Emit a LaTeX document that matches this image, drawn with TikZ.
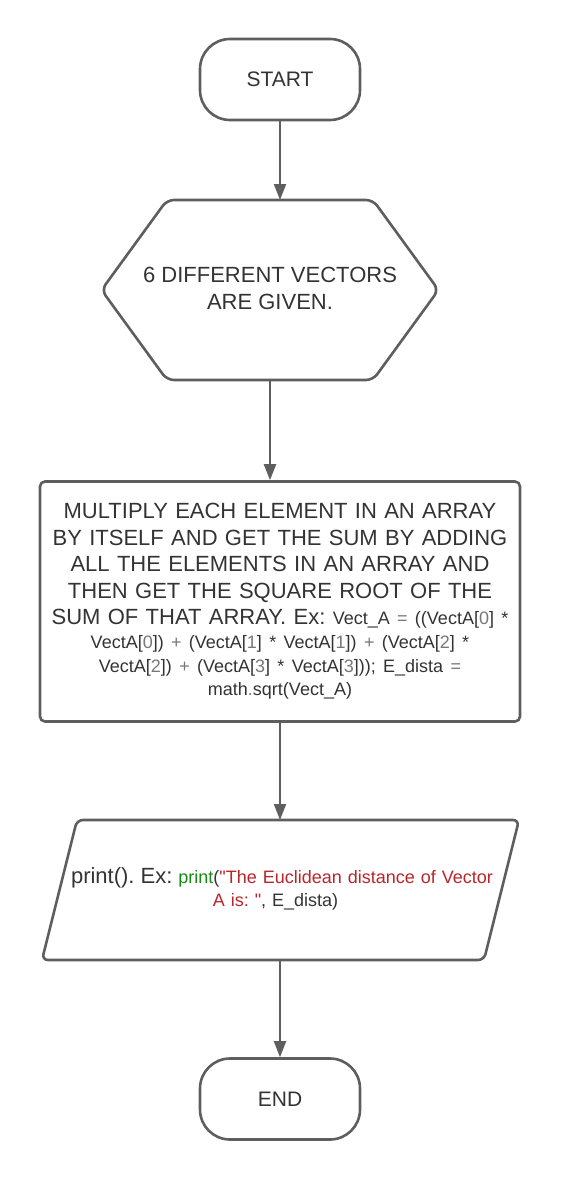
\documentclass[tikz,border=0pt]{standalone}
\usepackage{fontspec}
\setmainfont{Liberation Sans}
\usetikzlibrary{arrows.meta,calc}
\definecolor{edgegray}{HTML}{5E5E5E}
\definecolor{txtgray}{HTML}{333333}
\definecolor{litegray}{HTML}{777777}
\definecolor{kwgreen}{HTML}{138A13}
\definecolor{strred}{HTML}{B8252A}
\newcommand\bigtxt{\fontsize{22}{26.5}\selectfont\frenchspacing}
\newcommand\termtxt{\fontsize{21}{25}\selectfont}
\newcommand\smtxt{\fontsize{18}{23.5}\selectfont\frenchspacing}
\newcommand\lite[1]{\textcolor{litegray}{#1}}
\tikzset{
  shapeline/.style={draw=edgegray, line width=2.6pt},
  terminal/.style={shapeline, rounded corners=30pt, minimum width=160pt, minimum height=81pt, inner sep=0pt, font=\termtxt, text=txtgray},
  procbox/.style={shapeline, rounded corners=5pt, minimum width=480pt, minimum height=240pt, inner sep=0pt, text width=478pt, align=center, font=\bigtxt, text=txtgray},
  plaintext/.style={inner sep=0pt, align=center, text=txtgray},
  arr/.style={draw=edgegray, line width=2pt, -{Triangle[length=16pt,width=12pt]}}
}
\begin{document}
\begin{tikzpicture}[x=1pt,y=-1pt]
\useasboundingbox (0,0) rectangle (560,1180);

% START
\node[terminal] (start) at (280,79.5) {START};

% hexagon
\node[plaintext, font=\bigtxt] (hex) at (270,288.5) {6 DIFFERENT VECTORS\\ARE GIVEN.};
\coordinate (hexN) at (270,200);
\coordinate (hexS) at (270,380);
\draw[shapeline, rounded corners=7pt] (167,200) -- (373,200) -- (438.5,290) -- (373,380) -- (167,380) -- (101.5,290) -- cycle;

% process box
\node[procbox] (proc) at (280,601.5) {MULTIPLY EACH ELEMENT IN AN ARRAY\\
BY ITSELF AND GET THE SUM BY ADDING\\
ALL THE ELEMENTS IN AN ARRAY AND\\
THEN GET THE SQUARE ROOT OF THE\\
SUM OF THAT ARRAY. Ex: {\smtxt Vect\_A \lite{=} ((VectA[\lite{0}] *}\\[-2.5pt]
{\smtxt VectA[\lite{0}]) \lite{+} (VectA[\lite{1}] * VectA[\lite{1}]) \lite{+} (VectA[\lite{2}] *}\\[-3pt]
{\smtxt VectA[\lite{2}]) \lite{+} (VectA[\lite{3}] * VectA[\lite{3}])); E\_dista \lite{=}}\\[-3pt]
{\smtxt math\lite{.}sqrt(Vect\_A)}};

% print parallelogram
\node[plaintext, text width=470pt, font=\smtxt] (prt) at (280,889) {\kern4pt{\bigtxt print(). Ex: }\textcolor{kwgreen}{print}(\textcolor{strred}{\textquotedbl The Euclidean distance of Vector}\\
\textcolor{strred}{A is: \textquotedbl}, E\_dista)\kern9pt};
\coordinate (prtN) at (280,820);
\coordinate (prtS) at (280,960);
\draw[shapeline, rounded corners=6pt] (77,820) -- (519,820) -- (484,960) -- (42,960) -- cycle;

% END
\node[terminal] (finish) at (280,1099) {END};

% connectors
\draw[arr] (start.south) -- (start.south |- hexN);
\draw[arr] (hexS) -- (hexS |- proc.north);
\draw[arr] (proc.south) -- (prtN);
\draw[arr] (prtS) -- (finish.north);
\end{tikzpicture}
\end{document}
